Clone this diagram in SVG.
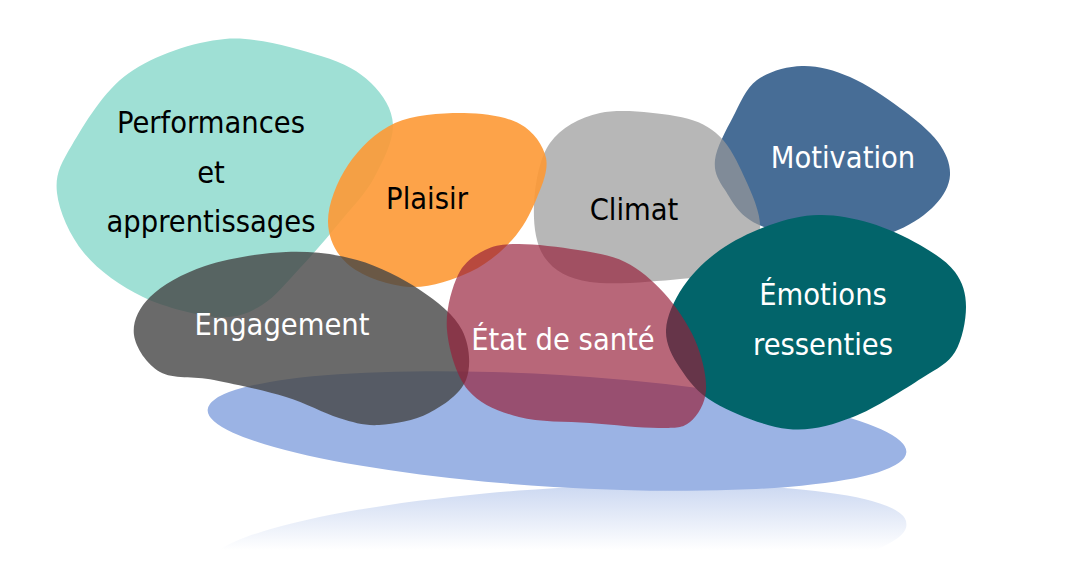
<svg xmlns="http://www.w3.org/2000/svg" width="1088" height="585" viewBox="0 0 1088 585">
<defs>
<linearGradient id="refl" gradientUnits="userSpaceOnUse" x1="0" y1="487" x2="0" y2="550">
<stop offset="0" stop-color="#9bb3e4" stop-opacity="0.5"/>
<stop offset="1" stop-color="#9bb3e4" stop-opacity="0"/>
</linearGradient>
<clipPath id="reflClip"><rect x="0" y="480" width="1088" height="71"/></clipPath>
</defs>
<style>
text{font-family:"DejaVu Sans Condensed","DejaVu Sans",sans-serif;font-stretch:condensed;font-size:30.5px;text-anchor:middle}
.dk{fill:#000}
.lt{fill:#fff}
</style>
<rect width="1088" height="585" fill="#fff"/>
<g id="base">
<g clip-path="url(#reflClip)">
<path fill="url(#refl)" d="M557,545 m-349.3,21.4 a350,56 -3.5 1,1 698.6,-42.8 a350,56 -3.5 1,1 -698.6,42.8 Z"/>
</g>
<ellipse cx="557" cy="431" rx="350" ry="56" transform="rotate(3.5 557 431)" fill="#9bb3e4"/>
</g>
<g id="performances">
<path fill="#9fe0d5" d="M225,39 C257,36.2 296.7,48.7 321,56 C345.3,63.3 359,71.5 371,83 C383,94.5 392.5,109.2 393,125 C393.5,140.8 382.8,161.8 374,178 C365.2,194.2 352.3,207 340,222 C327.7,237 313,254.2 300,268 C287,281.8 275.7,296.8 262,305 C248.3,313.2 237.8,318.3 218,317 C198.2,315.7 165.3,307.7 143,297 C120.7,286.3 98.3,270.3 84,253 C69.7,235.7 59,211 57,193 C55,175 60,165 72,145 C84,125 103.5,90.7 129,73 C154.5,55.3 193,41.8 225,39 Z"/>
<text class="dk" x="211" y="133">Performances</text>
<text class="dk" x="211" y="183">et</text>
<text class="dk" x="211" y="232">apprentissages</text>
</g>
<g id="motivation">
<path fill="#476d96" d="M802,66 C817.5,65.5 833.7,70 850,77 C866.3,84 885.3,97.2 900,108 C914.7,118.8 929.7,130.8 938,142 C946.3,153.2 950.5,164.5 950,175 C949.5,185.5 943.7,195.8 935,205 C926.3,214.2 913.8,223.3 898,230 C882.2,236.7 863.5,246 840,245 C816.5,244 776.2,233.2 757,224 C737.8,214.8 732,200.7 725,190 C718,179.3 713.7,172.2 715,160 C716.3,147.8 726,130.3 733,117 C740,103.7 745.5,88.5 757,80 C768.5,71.5 786.5,66.5 802,66 Z"/>
<text class="lt" x="843" y="168">Motivation</text>
</g>
<g id="climat">
<path fill="#989898" fill-opacity="0.7" d="M600,113 C620.8,108.5 655.7,112.7 675,116 C694.3,119.3 704.8,123.7 716,133 C727.2,142.3 734.7,156.2 742,172 C749.3,187.8 761.2,212 760,228 C758.8,244 748.3,259.5 735,268 C721.7,276.5 704.2,276.7 680,279 C655.8,281.3 612.5,285.5 590,282 C567.5,278.5 554.3,270.8 545,258 C535.7,245.2 533.2,224.2 534,205 C534.8,185.8 539,158.3 550,143 C561,127.7 579.2,117.5 600,113 Z"/>
<text class="dk" x="634" y="220">Climat</text>
</g>
<g id="plaisir">
<path fill="#fd9935" fill-opacity="0.9" d="M464,113 C484.8,113.2 506.3,116.5 520,124 C533.7,131.5 543.3,145.3 546,158 C548.7,170.7 541.7,186.3 536,200 C530.3,213.7 523,228 512,240 C501,252 487,264.2 470,272 C453,279.8 430,288 410,287 C390,286 363.7,276.8 350,266 C336.3,255.2 328.3,238.8 328,222 C327.7,205.2 336.8,181.5 348,165 C359.2,148.5 375.7,131.7 395,123 C414.3,114.3 443.2,112.8 464,113 Z"/>
<text class="dk" x="427" y="209">Plaisir</text>
</g>
<g id="emotions">
<path fill="#02646a" d="M819,215 C835.7,214.7 853.2,218 870,223 C886.8,228 905.8,236.8 920,245 C934.2,253.2 947.3,261.7 955,272 C962.7,282.3 966,293.7 966,307 C966,320.3 962.3,340.2 955,352 C947.7,363.8 939,367.2 922,378 C905,388.8 875.3,408.5 853,417 C830.7,425.5 811,431.3 788,429 C765,426.7 733,413.2 715,403 C697,392.8 688.2,380.2 680,368 C671.8,355.8 665.5,343.5 666,330 C666.5,316.5 674,300.3 683,287 C692,273.7 705.5,260.3 720,250 C734.5,239.7 753.5,230.8 770,225 C786.5,219.2 802.3,215.3 819,215 Z"/>
<text class="lt" x="823" y="305">Émotions</text>
<text class="lt" x="823" y="355">ressenties</text>
</g>
<g id="engagement">
<path fill="#454545" fill-opacity="0.8" d="M286,252 C311.3,251 334.7,253.7 357,260 C379.3,266.3 402.5,278.3 420,290 C437.5,301.7 454.3,315 462,330 C469.7,345 471.5,366.2 466,380 C460.5,393.8 443.5,405.5 429,413 C414.5,420.5 394,424.2 379,425 C364,425.8 354.5,422.7 339,418 C323.5,413.3 306.8,403.3 286,397 C265.2,390.7 235,384.2 214,380 C193,375.8 173.3,379.5 160,372 C146.7,364.5 135.7,347.5 134,335 C132.3,322.5 138.2,308.5 150,297 C161.8,285.5 182.3,273.5 205,266 C227.7,258.5 260.7,253 286,252 Z"/>
<text class="lt" x="282" y="335">Engagement</text>
</g>
<g id="etat-de-sante">
<path fill="#961f3a" fill-opacity="0.68" d="M519,244 C534.5,244 560.3,247 578,250 C595.7,253 610.7,254.8 625,262 C639.3,269.2 652.3,280 664,293 C675.7,306 688,323.8 695,340 C702,356.2 706.8,376.3 706,390 C705.2,403.7 697.7,415.7 690,422 C682.3,428.3 676.7,427.8 660,428 C643.3,428.2 613.5,424.8 590,423 C566.5,421.2 539.3,422.5 519,417 C498.7,411.5 480,404.5 468,390 C456,375.5 448.7,349.2 447,330 C445.3,310.8 451.7,288.3 458,275 C464.3,261.7 474.8,255.2 485,250 C495.2,244.8 503.5,244 519,244 Z"/>
<text class="lt" x="563" y="350">État de santé</text>
</g>
<g id="connectors"/>
</svg>
